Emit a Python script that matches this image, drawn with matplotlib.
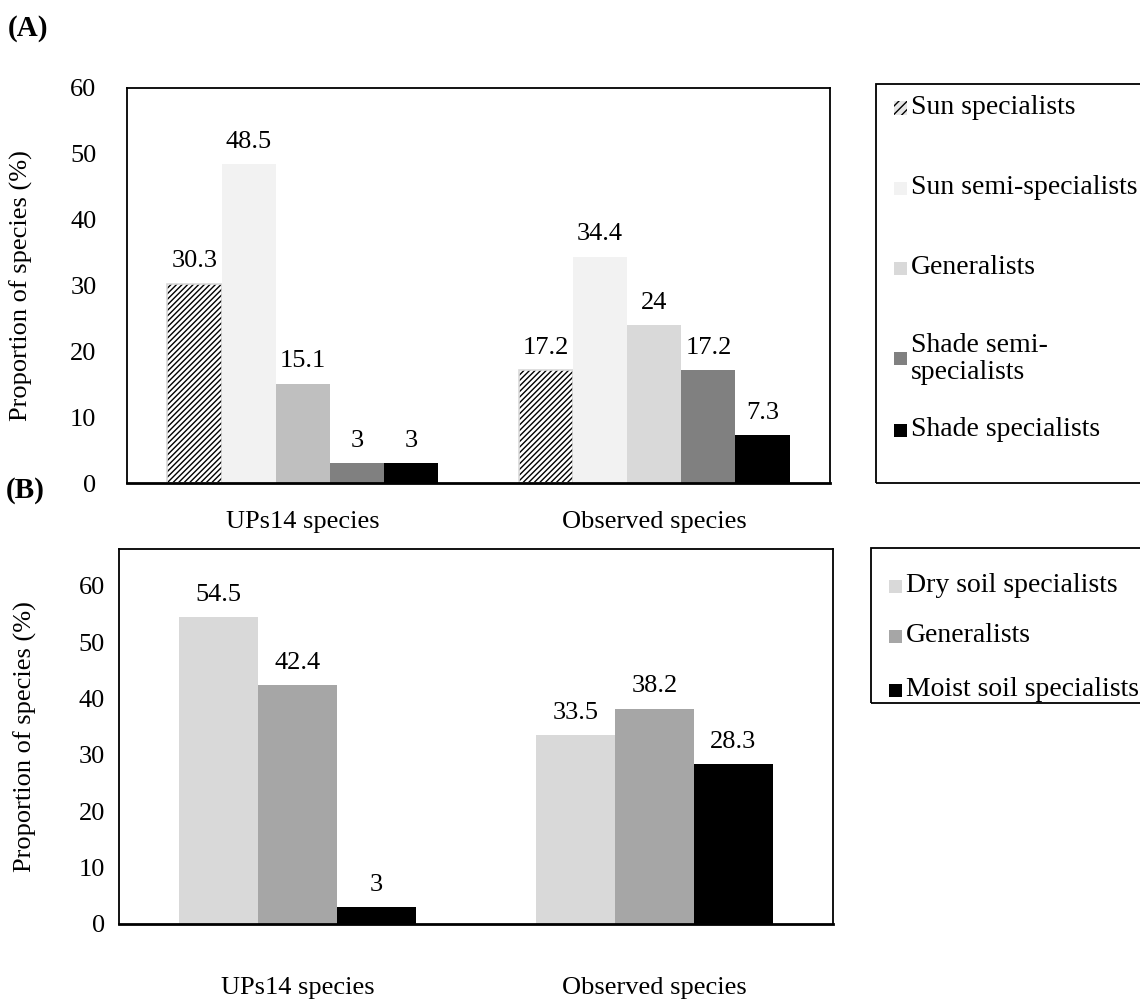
import matplotlib
matplotlib.use("Agg")
import matplotlib.pyplot as plt
from matplotlib.patches import Rectangle
import numpy as np

plt.rcParams["font.family"] = ["Liberation Serif", "DejaVu Serif"]
plt.rcParams["hatch.linewidth"] = 1.0

# ----------------------------
# Dados
# ----------------------------
grupos = ["UPs14 species", "Observed species"]

luz_series = ["Sun specialists", "Sun semi-specialists", "Generalists",
              "Shade semi-\nspecialists", "Shade specialists"]
luz_valores = [
    [30.3, 17.2],
    [48.5, 34.4],
    [15.1, 24],
    [3, 17.2],
    [3, 7.3],
]
luz_cores = [
    ["white", "white"],
    ["#f2f2f2", "#f2f2f2"],
    ["#bfbfbf", "#d9d9d9"],
    ["#808080", "#808080"],
    ["black", "black"],
]
luz_legenda_cores = ["white", "#f2f2f2", "#d9d9d9", "#808080", "black"]

solo_series = ["Dry soil specialists", "Generalists", "Moist soil specialists"]
solo_valores = [
    [54.5, 33.5],
    [42.4, 38.2],
    [3, 28.3],
]
solo_cores = ["#d9d9d9", "#a6a6a6", "black"]

FS = 19      # eixos e rótulos
FS_LEG = 20  # legenda
W, H = 1140, 1000

fig = plt.figure(figsize=(W / 100, H / 100), dpi=100)


def eixo(px_left, px_top, px_right, px_bottom):
    return fig.add_axes([px_left / W, 1 - px_bottom / H,
                         (px_right - px_left) / W, (px_bottom - px_top) / H])


def painel(ax, series, valores, cores, largura, ymax, hatch_first=False,
           ypad=18, xpad=18, ylabel_x=-0.13):
    x = np.arange(len(grupos))
    n = len(series)
    for i in range(n):
        pos = x + (i - (n - 1) / 2) * largura
        cs = cores[i] if isinstance(cores[i], list) else [cores[i]] * len(grupos)
        if hatch_first and i == 0:
            ax.bar(pos, valores[i], largura, color="white", edgecolor="black",
                   hatch="//////", linewidth=0)
            ax.bar(pos, valores[i], largura, fill=False, edgecolor="#d9d9d9",
                   linewidth=1.2)
        else:
            ax.bar(pos, valores[i], largura, color=cs, linewidth=0)
        for xp, v in zip(pos, valores[i]):
            ax.annotate(f"{v:g}", (xp, v), xytext=(0, 8), textcoords="offset points",
                        ha="center", va="bottom", fontsize=FS)
    ax.set_xlim(-0.5, len(grupos) - 0.5)
    ax.set_ylim(0, ymax)
    ax.set_yticks(range(0, 61, 10))
    ax.set_xticks(x)
    ax.set_xticklabels(grupos, fontsize=FS)
    ax.tick_params(axis="both", length=0, labelsize=FS)
    ax.tick_params(axis="x", pad=xpad)
    ax.tick_params(axis="y", pad=ypad)
    for s in ax.spines.values():
        s.set_linewidth(1.3)
    ax.spines["bottom"].set_linewidth(2)
    ax.set_ylabel("Proportion of species (%)", fontsize=FS)
    ax.yaxis.set_label_coords(ylabel_x, 0.5)


# ----------------------------
# Painel (A)
# ----------------------------
axA = eixo(127, 88, 830, 483)
painel(axA, luz_series, luz_valores, luz_cores, 0.154, 60, hatch_first=True,
       ypad=22, xpad=20, ylabel_x=(33 - 127) / 703)

# ----------------------------
# Painel (B)
# ----------------------------
axB = eixo(119, 549, 833, 924)
painel(axB, solo_series, solo_valores, solo_cores, 0.221, 66.5,
       ypad=10, xpad=38, ylabel_x=(37 - 119) / 714)

fig.text(8 / W, 1 - 28 / H, "(A)", fontsize=21, fontweight="bold", va="center")
fig.text(6 / W, 1 - 490 / H, "(B)", fontsize=21, fontweight="bold", va="center")


# ----------------------------
# Legendas (caixas manuais)
# ----------------------------
def legenda(px_left, px_top, px_bottom, nomes, cores, ys, hatch_first=False):
    fig.patches.append(Rectangle((px_left / W, 1 - px_bottom / H), (W + 20 - px_left) / W,
                                 (px_bottom - px_top) / H, transform=fig.transFigure,
                                 fill=False, edgecolor="black", linewidth=1.3))
    for i, (nome, cor, y) in enumerate(zip(nomes, cores, ys)):
        sq = 13
        r = Rectangle(((px_left + 18) / W, 1 - (y + sq / 2) / H), sq / W, sq / H,
                      transform=fig.transFigure, facecolor=cor, edgecolor="none")
        if hatch_first and i == 0:
            r.set_facecolor("#e6e6e6")
            r.set_hatch("////")
            r.set_edgecolor("black")
            r.set_linewidth(0)
        fig.patches.append(r)
        fig.text((px_left + 35) / W, 1 - y / H, nome, fontsize=FS_LEG, va="center",
                 ha="left", linespacing=1.15)


legenda(876, 84, 483, luz_series, luz_legenda_cores, [108, 188, 268, 359, 430],
        hatch_first=True)
legenda(871, 548, 703, solo_series, solo_cores, [586, 636, 690])

fig.savefig("out.png", dpi=100)
